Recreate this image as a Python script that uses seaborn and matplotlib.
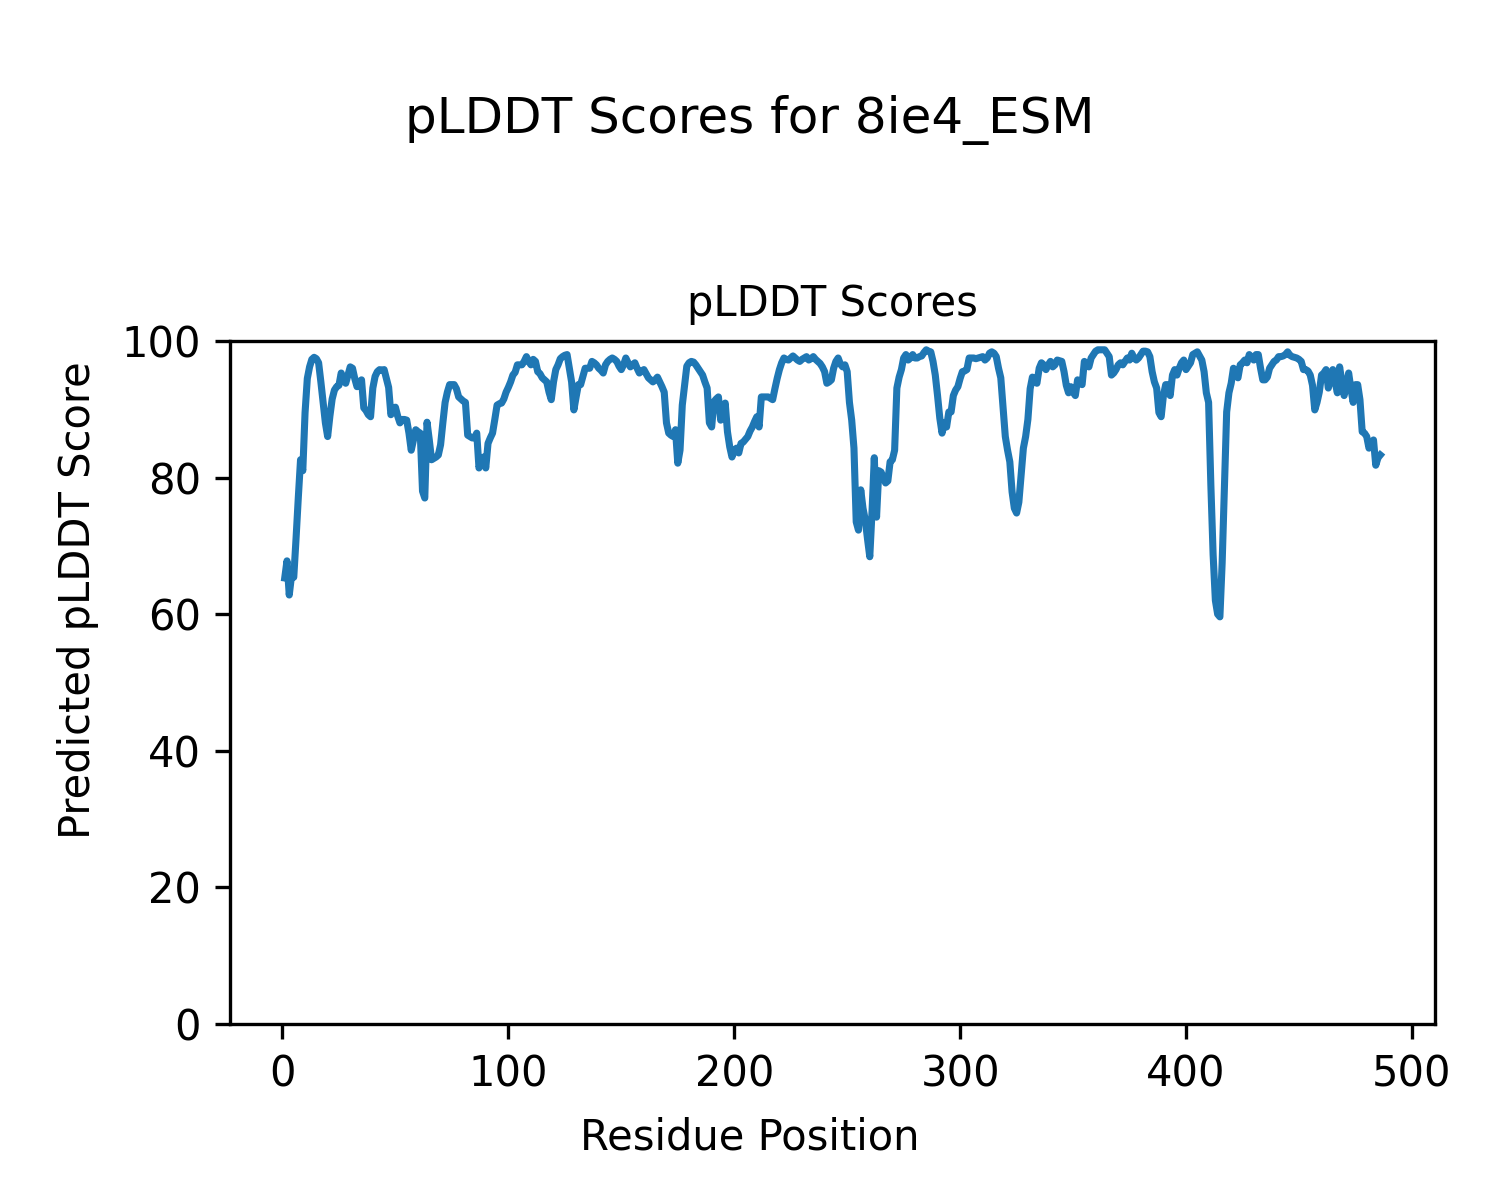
import numpy as np
import pandas as pd
import matplotlib
matplotlib.use("Agg")
import matplotlib.pyplot as plt
import seaborn as sns

title_main = "pLDDT Scores for 8ie4_ESM"
title_ax = "pLDDT Scores"
xlabel = "Residue Position"
ylabel = "Predicted pLDDT Score"

scores = [
    65.3, 67.8, 62.8, 65.6, 65.4, 71.0, 77.0, 82.6, 81.0, 89.5,
    94.5, 96.2, 97.3, 97.6, 97.4, 96.8, 94.0, 91.0, 88.0, 86.0,
    89.0, 91.5, 92.8, 93.3, 93.5, 95.3, 94.3, 93.8, 95.0, 96.2,
    96.0, 94.5, 93.3, 94.0, 94.3, 90.2, 89.8, 89.2, 88.9, 93.1,
    94.8, 95.5, 95.8, 95.7, 95.8, 94.5, 93.2, 89.2, 90.0, 90.3,
    89.0, 88.0, 88.5, 88.5, 88.4, 86.5, 84.0, 85.5, 87.0, 86.7,
    86.5, 78.0, 77.0, 88.1, 85.5, 82.6, 82.8, 83.0, 83.3, 84.8,
    88.0, 91.0, 92.5, 93.6, 93.6, 93.6, 93.0, 91.8, 91.5, 91.2,
    91.0, 86.2, 86.0, 85.8, 85.8, 86.5, 81.4, 82.5, 83.0, 81.4,
    85.0, 85.8, 86.5, 88.5, 90.6, 90.8, 90.9, 91.5, 92.5, 93.2,
    94.0, 95.0, 95.4, 96.5, 96.5, 96.5, 97.0, 97.7, 97.0, 96.5,
    97.3, 97.0, 95.5, 95.2, 94.6, 94.3, 94.0, 92.5, 91.4, 94.0,
    95.8, 96.5, 97.4, 97.7, 97.9, 98.0, 96.0, 94.0, 89.9, 91.8,
    93.6, 93.6, 94.8, 96.0, 96.0, 96.0, 97.0, 96.8, 96.5, 96.0,
    95.7, 95.3, 96.5, 97.0, 97.3, 97.5, 97.3, 97.0, 96.3, 95.8,
    96.5, 97.5, 96.8, 96.2, 96.5, 96.8, 96.0, 95.3, 95.6, 95.8,
    95.2, 94.6, 94.3, 94.0, 94.3, 94.7, 94.0, 93.3, 92.5, 88.0,
    86.5, 86.2, 86.0, 87.0, 82.1, 84.0, 90.6, 93.5, 96.3, 96.8,
    97.0, 96.9, 96.5, 96.0, 95.5, 95.0, 94.0, 93.1, 88.0, 87.4,
    91.1, 91.5, 91.8, 88.4, 89.5, 90.9, 86.7, 84.5, 83.0, 84.0,
    84.3, 83.6, 85.0, 85.2, 85.6, 86.0, 86.8, 87.4, 88.2, 88.9,
    87.4, 91.8, 91.8, 91.8, 91.8, 91.6, 91.4, 93.0, 94.5, 95.8,
    96.8, 97.5, 97.3, 97.2, 97.5, 97.8, 97.5, 97.2, 97.0, 97.3,
    97.5, 97.7, 97.2, 97.4, 97.7, 97.3, 97.0, 96.7, 96.2, 95.5,
    93.8, 94.0, 94.3, 96.0, 97.0, 97.5, 96.6, 96.2, 96.5, 95.5,
    91.0, 88.4, 84.3, 73.5, 72.3, 78.2, 75.5, 73.8, 71.0, 68.4,
    75.0, 82.9, 74.2, 81.0, 80.8, 80.0, 79.2, 79.5, 82.3, 82.6,
    84.0, 93.1, 94.7, 95.8, 97.5, 98.0, 97.2, 97.5, 98.0, 97.5,
    97.5, 97.7, 97.8, 98.3, 98.7, 98.5, 98.4, 97.0, 95.0, 92.0,
    88.7, 86.5, 88.0, 87.4, 89.6, 89.6, 92.0, 92.8, 93.3, 94.5,
    95.5, 95.6, 95.8, 97.5, 97.5, 97.5, 97.4, 97.5, 97.6, 97.7,
    97.2, 97.5, 98.2, 98.4, 98.2, 97.7, 96.0, 94.6, 90.2, 86.0,
    84.0, 82.3, 77.9, 75.5, 74.8, 76.4, 80.4, 84.3, 86.0, 88.5,
    93.0, 94.7, 94.0, 93.8, 96.0, 96.8, 96.5, 95.8, 96.5, 97.0,
    96.2, 96.5, 97.2, 97.1, 97.0, 95.5, 93.5, 92.4, 93.3, 92.5,
    92.0, 94.3, 93.8, 93.6, 97.0, 96.5, 96.2, 97.5, 98.0, 98.5,
    98.7, 98.7, 98.7, 98.7, 98.2, 97.7, 95.0, 95.3, 95.8, 96.5,
    96.8, 96.5, 97.0, 97.5, 97.2, 98.2, 97.5, 97.2, 97.5, 98.0,
    98.5, 98.5, 98.4, 97.7, 95.5, 94.0, 93.1, 89.5, 88.9, 92.0,
    93.6, 93.6, 92.0, 95.0, 95.8, 95.0, 96.0, 96.8, 97.2, 95.8,
    96.3, 96.8, 98.0, 98.2, 98.4, 97.8, 97.2, 95.5, 92.4, 91.0,
    78.9, 68.7, 62.0, 60.0, 59.6, 67.5, 78.5, 89.6, 92.4, 93.8,
    96.0, 95.0, 94.6, 96.5, 96.8, 97.2, 96.8, 98.0, 97.6, 97.2,
    98.0, 98.0, 96.0, 94.3, 94.3, 94.7, 96.0, 96.5, 97.0, 97.2,
    97.7, 97.7, 97.8, 98.0, 98.4, 97.9, 97.7, 97.6, 97.5, 97.3,
    97.0, 95.8, 95.8, 95.6, 95.0, 93.5, 89.9, 91.0, 92.5, 95.0,
    95.3, 95.8, 93.1, 94.5, 95.8, 94.0, 92.4, 96.2, 94.0, 92.0,
    93.5, 95.3, 93.0, 91.0, 93.6, 93.6, 91.4, 86.7, 86.5, 86.0,
    84.3, 85.0, 85.5, 81.8, 82.9, 83.3,
]
residues = list(range(1, len(scores) + 1))

df = pd.DataFrame({"residue": residues, "score": scores})

fig = plt.figure(figsize=(5, 4), dpi=300)
ax = fig.add_axes([0.1533, 0.1467, 0.8034, 0.5692])
sns.lineplot(data=df, x="residue", y="score", ax=ax, color="#1f77b4", linewidth=1.7)
ax.set_ylim(0, 100)
ax.set_title(title_ax, fontsize=10)
ax.set_xlabel("")
ax.set_ylabel("")
fig.supxlabel(xlabel, y=0.0517, va="center", fontsize=10)
fig.supylabel(ylabel, x=0.052, ha="center", va="center", fontsize=10)
fig.suptitle(title_main, y=0.9, va="center", fontsize=12)
fig.savefig("out.png", dpi=300)
